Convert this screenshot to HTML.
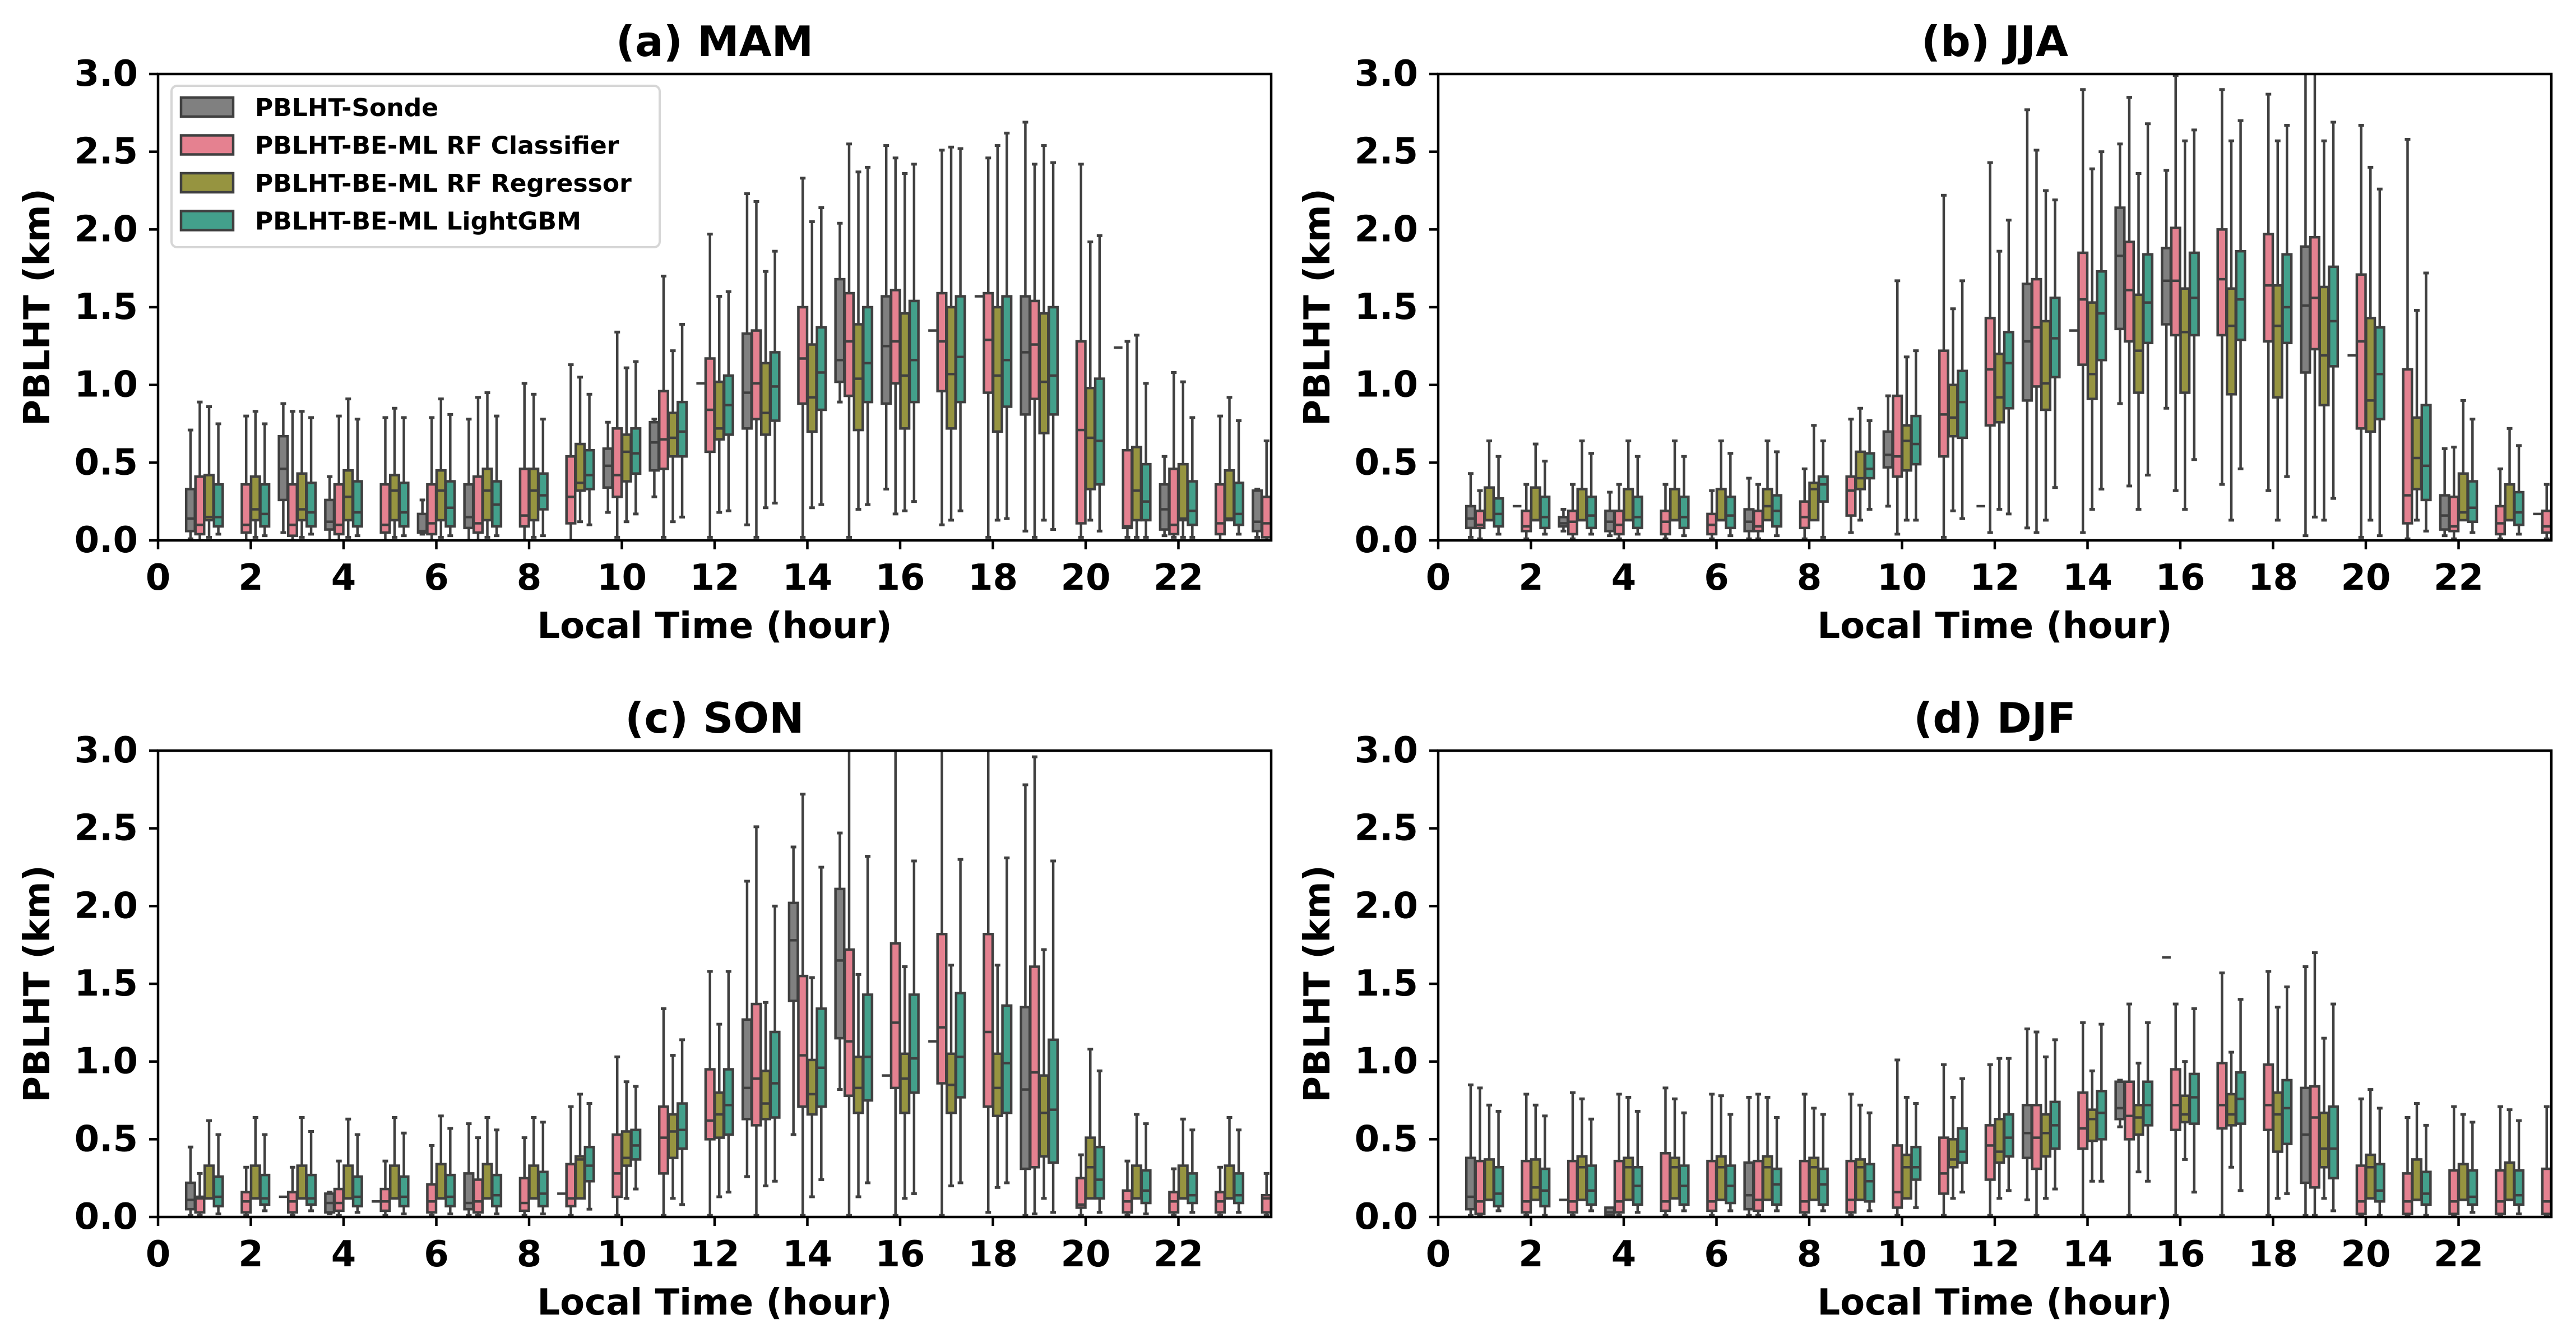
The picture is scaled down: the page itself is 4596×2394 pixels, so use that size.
<!DOCTYPE html>
<html><head><meta charset="utf-8">
<style>
html,body{margin:0;padding:0;background:#fff;}
svg{display:block;font-family:"DejaVu Sans","Liberation Sans",sans-serif;font-weight:bold;}
</style></head>
<body>
<svg id="fig" width="4596" height="2394" viewBox="0 0 4596 2394" xmlns="http://www.w3.org/2000/svg"></svg>
<script>
// ---- data: each entry = [whisker-low, q1, median, q3, whisker-high] for hours 1..24 ----
const hours = [1,2,3,4,5,6,7,8,9,10,11,12,13,14,15,16,17,18,19,20,21,22,23,24];
const seriesNames = ["PBLHT-Sonde","PBLHT-BE-ML RF Classifier","PBLHT-BE-ML RF Regressor","PBLHT-BE-ML LightGBM"];
const yTicks = [0.0,0.5,1.0,1.5,2.0,2.5,3.0];
const xTicks = [0,2,4,6,8,10,12,14,16,18,20,22];
const panelTitles = ["(a) MAM","(b) JJA","(c) SON","(d) DJF"];

const A_S = [[0.01,0.06,0.14,0.33,0.71],null,[0.05,0.26,0.46,0.67,0.88],[0,0.07,0.12,0.26,0.41],null,[0.04,0.05,0.06,0.17,0.26],[0,0.08,0.15,0.36,0.78],null,null,[0.18,0.34,0.48,0.59,0.76],[0.28,0.45,0.63,0.76,0.78],[1.01,1.01,1.01,1.01,1.01],[0.10,0.72,0.95,1.33,2.23],null,[0.89,1.02,1.16,1.68,2.04],[0.33,0.88,1.25,1.57,2.54],[1.35,1.35,1.35,1.35,1.35],[1.57,1.57,1.57,1.57,1.57],[0.06,0.81,1.21,1.57,2.69],null,[1.24,1.24,1.24,1.24,1.24],[0.03,0.07,0.20,0.36,0.54],null,[0.02,0.06,0.12,0.32,0.33]];
const A_C = [[0,0.04,0.10,0.41,0.89],[0,0.05,0.10,0.36,0.80],[0,0.03,0.10,0.36,0.83],[0,0.04,0.10,0.36,0.80],[0,0.05,0.10,0.36,0.79],[0,0.04,0.11,0.36,0.79],[0,0.05,0.11,0.41,0.92],[0,0.09,0.16,0.46,1.01],[0,0.11,0.28,0.54,1.13],[0.02,0.28,0.42,0.72,1.34],[0.02,0.46,0.65,0.96,1.70],[0.02,0.57,0.84,1.17,1.97],[0.02,0.78,1.01,1.35,2.18],[0.02,0.88,1.17,1.50,2.33],[0.02,0.93,1.28,1.59,2.55],[0.17,1.01,1.28,1.61,2.46],[0.10,0.96,1.28,1.59,2.51],[0.02,0.95,1.29,1.59,2.46],[0.02,0.91,1.26,1.54,2.42],[0.02,0.11,0.71,1.28,2.42],[0.02,0.08,0.09,0.58,1.28],[0.02,0.04,0.10,0.46,1.08],[0,0.04,0.11,0.36,0.80],[0,0.02,0.11,0.28,0.64]];
const A_R = [[0.02,0.13,0.15,0.42,0.86],[0.02,0.13,0.20,0.41,0.83],[0.02,0.13,0.20,0.43,0.83],[0.02,0.13,0.28,0.45,0.91],[0.02,0.13,0.32,0.42,0.85],[0.02,0.13,0.32,0.45,0.91],[0.02,0.13,0.32,0.46,0.95],[0.02,0.13,0.32,0.46,0.94],[0.12,0.32,0.37,0.62,1.05],[0.12,0.38,0.57,0.68,1.11],[0.12,0.54,0.66,0.82,1.22],[0.18,0.65,0.72,1.02,1.57],[0.21,0.68,0.82,1.14,1.73],[0.21,0.70,0.92,1.26,2.05],[0.20,0.71,1.04,1.39,2.37],[0.19,0.72,1.06,1.46,2.36],[0.13,0.72,1.07,1.50,2.53],[0.13,0.70,1.06,1.50,2.54],[0.13,0.69,1.02,1.46,2.54],[0.13,0.33,0.66,0.98,1.92],[0.02,0.13,0.32,0.60,1.32],[0.02,0.13,0.14,0.49,1.02],[0.13,0.13,0.14,0.45,0.92],null];
const A_L = [[0.04,0.09,0.15,0.36,0.75],[0.03,0.09,0.17,0.36,0.75],[0.04,0.09,0.18,0.37,0.79],[0.03,0.09,0.18,0.38,0.78],[0.03,0.09,0.18,0.37,0.79],[0.03,0.09,0.21,0.38,0.81],[0.03,0.09,0.23,0.38,0.80],[0.03,0.20,0.29,0.43,0.78],[0.10,0.33,0.42,0.58,0.94],[0.17,0.43,0.56,0.72,1.15],[0.15,0.54,0.70,0.89,1.39],[0.19,0.68,0.87,1.06,1.60],[0.24,0.77,0.99,1.21,1.86],[0.23,0.84,1.08,1.37,2.14],[0.23,0.89,1.14,1.50,2.40],[0.25,0.89,1.16,1.54,2.42],[0.19,0.89,1.18,1.57,2.52],[0.14,0.86,1.16,1.57,2.62],[0.07,0.81,1.06,1.50,2.43],[0.06,0.36,0.64,1.04,1.96],[0.02,0.13,0.25,0.49,1.01],[0.02,0.10,0.19,0.38,0.79],[0.04,0.10,0.17,0.37,0.77],null];

const B_S = [[0.02,0.08,0.14,0.22,0.43],[0.22,0.22,0.22,0.22,0.22],[0.06,0.09,0.11,0.15,0.20],[0.03,0.06,0.12,0.19,0.31],null,null,[0.01,0.06,0.12,0.20,0.40],null,null,[0.22,0.47,0.55,0.70,0.93],null,[0.22,0.22,0.22,0.22,0.22],[0.08,0.90,1.28,1.65,2.77],[1.35,1.35,1.35,1.35,1.35],[0.88,1.36,1.83,2.14,2.55],[0.85,1.39,1.67,1.88,2.38],null,null,[0.03,1.08,1.51,1.89,3.2],[1.19,1.19,1.19,1.19,1.19],null,[0.03,0.07,0.16,0.29,0.59],null,[0.17,0.17,0.17,0.17,0.17]];
const B_C = [[0.01,0.08,0.10,0.19,0.32],[0.01,0.06,0.09,0.19,0.36],[0.01,0.04,0.12,0.19,0.36],[0.01,0.04,0.10,0.19,0.36],[0.01,0.04,0.12,0.19,0.36],[0.01,0.04,0.10,0.17,0.32],[0.01,0.06,0.09,0.19,0.36],[0.01,0.08,0.15,0.25,0.46],[0.05,0.16,0.32,0.41,0.78],[0.04,0.41,0.54,0.93,1.67],[0.02,0.54,0.81,1.22,2.22],[0.05,0.74,1.10,1.43,2.43],[0.05,0.99,1.37,1.68,2.51],[0.05,1.13,1.55,1.85,2.90],[0.35,1.28,1.61,1.92,2.85],[0.32,1.32,1.67,2.01,2.99],[0.36,1.32,1.68,2.00,2.90],[0.32,1.28,1.64,1.97,2.87],[0.15,1.23,1.56,1.95,3.1],[0.02,0.72,1.28,1.71,2.67],[0.01,0.11,0.29,1.10,2.58],[0.01,0.06,0.09,0.28,0.60],[0.01,0.04,0.11,0.22,0.46],[0.01,0.05,0.09,0.19,0.36]];
const B_R = [[0.13,0.13,0.13,0.34,0.64],[0.13,0.13,0.13,0.34,0.62],[0.13,0.13,0.13,0.33,0.64],[0.13,0.13,0.13,0.33,0.64],[0.13,0.13,0.13,0.33,0.64],[0.13,0.13,0.13,0.33,0.64],[0.13,0.13,0.22,0.33,0.64],[0.13,0.13,0.33,0.37,0.74],[0.13,0.33,0.40,0.57,0.85],[0.13,0.45,0.64,0.74,1.18],[0.19,0.67,0.79,1.00,1.49],[0.20,0.76,0.92,1.20,1.86],[0.13,0.84,1.01,1.41,2.25],[0.20,0.91,1.07,1.53,2.39],[0.20,0.95,1.22,1.58,2.36],[0.20,0.95,1.34,1.62,2.57],[0.13,0.94,1.38,1.62,2.57],[0.13,0.92,1.38,1.64,2.57],[0.13,0.87,1.19,1.63,2.57],[0.13,0.70,0.90,1.43,2.40],[0.13,0.33,0.53,0.79,1.48],[0.13,0.13,0.18,0.43,0.90],[0.13,0.13,0.13,0.36,0.72],null];
const B_L = [[0.04,0.09,0.17,0.27,0.54],[0.04,0.08,0.15,0.28,0.51],[0.04,0.08,0.16,0.28,0.56],[0.04,0.08,0.15,0.28,0.54],[0.03,0.08,0.15,0.28,0.54],[0.03,0.08,0.16,0.28,0.56],[0.03,0.09,0.19,0.29,0.57],[0.02,0.25,0.36,0.41,0.64],[0.20,0.40,0.46,0.56,0.77],[0.13,0.49,0.62,0.80,1.22],[0.14,0.66,0.89,1.09,1.67],[0.17,0.85,1.14,1.34,2.06],[0.34,1.05,1.30,1.56,2.19],[0.33,1.16,1.46,1.73,2.50],[0.42,1.27,1.53,1.84,2.68],[0.52,1.32,1.56,1.85,2.64],[0.46,1.29,1.55,1.86,2.70],[0.41,1.27,1.50,1.84,2.67],[0.27,1.12,1.41,1.76,2.69],[0.03,0.78,1.07,1.37,2.26],[0.06,0.26,0.48,0.87,1.72],[0.05,0.12,0.21,0.38,0.78],[0.04,0.10,0.18,0.31,0.61],null];

const C_S = [[0.01,0.05,0.11,0.22,0.45],null,[0.13,0.13,0.13,0.13,0.13],[0.02,0.03,0.09,0.15,0.16],[0.10,0.10,0.10,0.10,0.10],null,[0.01,0.05,0.09,0.28,0.60],null,[0.15,0.15,0.15,0.15,0.15],null,null,null,[0.26,0.63,0.83,1.27,2.16],[0.53,1.39,1.78,2.02,2.38],[0.82,1.15,1.65,2.11,2.47],[0.91,0.91,0.91,0.91,0.91],[1.13,1.13,1.13,1.13,1.13],null,[0.01,0.31,0.82,1.35,2.78],null,null,null,null,null];
const C_C = [[0.01,0.03,0.12,0.13,0.28],[0.01,0.03,0.10,0.16,0.32],[0.01,0.03,0.10,0.16,0.32],[0.01,0.04,0.09,0.18,0.36],[0.01,0.04,0.10,0.18,0.36],[0.01,0.03,0.10,0.21,0.46],[0.01,0.03,0.10,0.24,0.51],[0.01,0.04,0.09,0.25,0.51],[0.01,0.07,0.12,0.34,0.71],[0.01,0.13,0.28,0.53,1.03],[0.01,0.28,0.51,0.71,1.34],[0.01,0.50,0.62,0.95,1.58],[0.01,0.59,0.89,1.37,2.51],[0.01,0.71,1.04,1.55,2.72],[0.01,0.78,1.13,1.72,3.2],[0.01,0.83,1.25,1.76,3.2],[0.01,0.86,1.22,1.82,3.2],[0.03,0.71,1.19,1.82,3.2],[0.02,0.32,0.93,1.61,2.96],[0.01,0.06,0.08,0.25,0.40],[0.01,0.03,0.10,0.17,0.36],[0.01,0.03,0.10,0.16,0.31],[0.01,0.03,0.10,0.16,0.32],[0.01,0.03,0.12,0.14,0.28]];
const C_R = [[0.12,0.12,0.12,0.33,0.62],[0.12,0.12,0.12,0.33,0.64],[0.12,0.12,0.12,0.33,0.64],[0.12,0.12,0.12,0.33,0.63],[0.12,0.12,0.12,0.33,0.64],[0.12,0.12,0.12,0.34,0.65],[0.12,0.12,0.12,0.34,0.64],[0.12,0.12,0.12,0.33,0.64],[0.12,0.12,0.37,0.39,0.79],[0.12,0.33,0.38,0.55,0.87],[0.12,0.38,0.55,0.66,1.04],[0.13,0.51,0.66,0.80,1.24],[0.20,0.63,0.73,0.94,1.38],[0.13,0.66,0.79,1.01,1.54],[0.13,0.67,0.83,1.03,1.56],[0.12,0.67,0.89,1.05,1.61],[0.20,0.67,0.85,1.05,1.62],[0.19,0.65,0.83,1.05,1.62],[0.12,0.39,0.67,0.91,1.72],[0.12,0.12,0.32,0.51,1.08],[0.12,0.12,0.12,0.33,0.66],[0.12,0.12,0.12,0.33,0.63],[0.12,0.12,0.12,0.33,0.64],null];
const C_L = [[0.02,0.07,0.13,0.26,0.53],[0.04,0.08,0.12,0.27,0.53],[0.04,0.08,0.12,0.27,0.55],[0.03,0.07,0.13,0.26,0.53],[0.02,0.07,0.13,0.26,0.54],[0.02,0.07,0.13,0.27,0.57],[0.02,0.07,0.14,0.27,0.56],[0.02,0.07,0.15,0.29,0.61],[0.05,0.23,0.33,0.45,0.73],[0.18,0.37,0.46,0.56,0.84],[0.08,0.44,0.56,0.73,1.14],[0.16,0.53,0.72,0.95,1.58],[0.23,0.64,0.86,1.19,2.00],[0.24,0.71,0.96,1.34,2.25],[0.22,0.75,1.03,1.43,2.32],[0.15,0.80,1.02,1.43,2.29],[0.22,0.77,1.03,1.44,2.30],[0.22,0.67,0.99,1.36,2.31],[0.03,0.35,0.69,1.14,2.29],[0.03,0.12,0.24,0.45,0.94],[0.02,0.09,0.17,0.30,0.60],[0.03,0.09,0.14,0.28,0.56],[0.03,0.09,0.14,0.28,0.56],null];

const D_S = [[0.01,0.05,0.13,0.38,0.85],null,[0.11,0.11,0.11,0.11,0.11],[0.01,0.01,0.03,0.06,0.06],null,null,[0.01,0.05,0.14,0.35,0.77],null,null,null,null,null,[0.11,0.38,0.54,0.72,1.21],null,[0.58,0.63,0.70,0.87,0.88],[1.67,1.67,1.67,1.67,1.67],null,null,[0.01,0.22,0.53,0.83,1.61],null,null,null,null,null];
const D_C = [[0.01,0.02,0.10,0.36,0.83],[0.01,0.03,0.10,0.36,0.79],[0.01,0.03,0.10,0.36,0.80],[0.01,0.03,0.10,0.36,0.79],[0.01,0.04,0.10,0.41,0.83],[0.01,0.04,0.10,0.36,0.79],[0.01,0.04,0.11,0.36,0.79],[0.01,0.03,0.10,0.36,0.79],[0.01,0.03,0.11,0.36,0.79],[0.01,0.06,0.16,0.46,1.01],[0.01,0.15,0.28,0.51,0.98],[0.01,0.24,0.46,0.59,0.98],[0.01,0.31,0.51,0.72,1.19],[0.01,0.44,0.57,0.80,1.25],[0.01,0.50,0.65,0.87,1.37],[0.01,0.56,0.72,0.95,1.37],[0.01,0.57,0.72,0.99,1.57],[0.01,0.56,0.72,0.98,1.58],[0.01,0.19,0.64,0.84,1.70],[0.01,0.02,0.10,0.33,0.76],[0.01,0.02,0.10,0.28,0.64],[0.01,0.02,0.10,0.30,0.71],[0.01,0.02,0.10,0.30,0.71],[0.01,0.02,0.10,0.31,0.71]];
const D_R = [[0.11,0.11,0.11,0.37,0.72],[0.11,0.11,0.19,0.37,0.72],[0.11,0.11,0.32,0.39,0.76],[0.11,0.11,0.32,0.38,0.77],[0.12,0.12,0.32,0.38,0.76],[0.11,0.11,0.32,0.39,0.78],[0.11,0.11,0.32,0.39,0.77],[0.11,0.11,0.32,0.38,0.70],[0.11,0.11,0.32,0.37,0.72],[0.12,0.12,0.32,0.40,0.77],[0.12,0.32,0.37,0.50,0.77],[0.12,0.35,0.42,0.63,1.02],[0.12,0.39,0.54,0.66,1.03],[0.23,0.49,0.63,0.69,0.94],[0.29,0.53,0.64,0.72,0.99],[0.37,0.61,0.66,0.78,1.00],[0.32,0.59,0.66,0.79,1.06],[0.12,0.42,0.66,0.80,1.35],[0.12,0.32,0.44,0.67,1.15],[0.12,0.12,0.32,0.40,0.82],[0.11,0.11,0.11,0.37,0.73],[0.11,0.11,0.11,0.34,0.66],[0.11,0.11,0.11,0.35,0.69],null];
const D_L = [[0.04,0.07,0.15,0.32,0.68],[0.01,0.07,0.17,0.31,0.65],[0.04,0.08,0.17,0.33,0.63],[0.03,0.08,0.20,0.32,0.68],[0.04,0.08,0.20,0.33,0.67],[0.04,0.09,0.20,0.33,0.66],[0.04,0.08,0.21,0.31,0.64],[0.04,0.08,0.21,0.31,0.66],[0.04,0.10,0.23,0.34,0.67],[0.06,0.24,0.32,0.45,0.73],[0.16,0.35,0.42,0.57,0.89],[0.17,0.39,0.51,0.66,1.02],[0.18,0.44,0.59,0.74,1.14],[0.23,0.50,0.67,0.81,1.24],[0.23,0.59,0.72,0.87,1.25],[0.16,0.60,0.77,0.92,1.34],[0.17,0.60,0.76,0.93,1.40],[0.15,0.47,0.70,0.88,1.48],[0.04,0.25,0.44,0.71,1.37],[0.01,0.10,0.17,0.34,0.70],[0.01,0.08,0.15,0.29,0.59],[0.03,0.08,0.13,0.30,0.61],[0.02,0.08,0.14,0.30,0.62],null];

const panelData = [[A_S,A_C,A_R,A_L],[B_S,B_C,B_R,B_L],[C_S,C_C,C_R,C_L],[D_S,D_C,D_R,D_L]];

// ---- rendering ----
const NS = "http://www.w3.org/2000/svg";
const svg = document.getElementById('fig');
const COLORS = ["#808080","#e58190","#969440","#43a08b"];
const EDGE = "#404040";
const OFFS = [-0.3,-0.1,0.1,0.3];
const panels = [
  {l:282,r:2268,t:132,b:964},
  {l:2566,r:4552,t:132,b:964},
  {l:282,r:2268,t:1339,b:2171},
  {l:2566,r:4552,t:1339,b:2171}
];
function mk(tag, attrs, parent){
  const e = document.createElementNS(NS, tag);
  for (const k in attrs) e.setAttribute(k, attrs[k]);
  (parent||svg).appendChild(e);
  return e;
}

panels.forEach((P, pi) => {
  const g = mk('g', {});
  
  
  const xS = h => P.l + (h/24)*(P.r-P.l);
  const yS = v => P.b - (v/3)*(P.b-P.t);
  const clipId = 'clip'+pi;
  const cp = mk('clipPath', {id:clipId}, g);
  mk('rect', {x:P.l, y:P.t, width:P.r-P.l, height:P.b-P.t}, cp);
  const marks = mk('g', {'clip-path':'url(#'+clipId+')'}, g);
  
  
  const boxW = (P.r-P.l)/24*0.2 - 1;
  panelData[pi].forEach((series, si) => {
    series.forEach((st, hi) => {
      if (!st) return;
      const cx = xS(hours[hi] + OFFS[si]);
      const bg = mk('g', {}, marks);
      
      
      const [lo,q1,md,q3,hiV] = st;
      mk('line', {x1:cx,x2:cx,y1:yS(lo),y2:yS(q1),stroke:EDGE,'stroke-width':4.5}, bg);
      mk('line', {x1:cx,x2:cx,y1:yS(q3),y2:yS(hiV),stroke:EDGE,'stroke-width':4.5}, bg);
      if (hiV > q3) mk('line', {x1:cx-5,x2:cx+5,y1:yS(hiV),y2:yS(hiV),stroke:EDGE,'stroke-width':5}, bg);
      if (lo < q1) mk('line', {x1:cx-5,x2:cx+5,y1:yS(lo),y2:yS(lo),stroke:EDGE,'stroke-width':5}, bg);
      mk('rect', {x:cx-boxW/2, y:yS(q3), width:boxW, height:Math.max(0,yS(q1)-yS(q3)), fill:COLORS[si], stroke:EDGE,'stroke-width':4.5}, bg);
      mk('line', {x1:cx-boxW/2,x2:cx+boxW/2,y1:yS(md),y2:yS(md),stroke:EDGE,'stroke-width':4.5}, bg);
    });
  });
  // spines
  const sp = mk('rect', {x:P.l, y:P.t, width:P.r-P.l, height:P.b-P.t, fill:'none', stroke:'#000','stroke-width':4.5}, g);
  
  
  // y ticks
  yTicks.forEach(v => {
    mk('line', {x1:P.l-16,x2:P.l,y1:yS(v),y2:yS(v),stroke:'#000','stroke-width':4.5}, g);
    const t = mk('text', {x:P.l-36, y:yS(v), 'text-anchor':'end','dominant-baseline':'central','font-size':64}, g);
    t.textContent = v.toFixed(1);
    
    
  });
  xTicks.forEach(v => {
    mk('line', {x1:xS(v),x2:xS(v),y1:P.b,y2:P.b+16,stroke:'#000','stroke-width':4.5}, g);
    const t = mk('text', {x:xS(v), y:P.b+88, 'text-anchor':'middle','font-size':64}, g);
    t.textContent = String(v);
    
    
  });
  const xl = mk('text', {x:(P.l+P.r)/2, y:P.b+174, 'text-anchor':'middle','font-size':64}, g);
  xl.textContent = 'Local Time (hour)';
  
  
  const yx = P.l-215, yy = (P.t+P.b)/2;
  const yl = mk('text', {x:yx, y:yy, 'text-anchor':'middle','dominant-baseline':'central','font-size':64, transform:'rotate(-90 '+yx+' '+yy+')'}, g);
  yl.textContent = 'PBLHT (km)';
  
  
  const ti = mk('text', {x:(P.l+P.r)/2, y:P.t-32, 'text-anchor':'middle','font-size':75}, g);
  ti.textContent = panelTitles[pi];
  
  
});

// legend (panel a)
const lg = mk('g', {});


mk('rect', {x:306, y:153, width:871, height:288, rx:10, fill:'#fff', 'fill-opacity':0.85, stroke:'#d6d6d6','stroke-width':4}, lg);
seriesNames.forEach((n, i) => {
  const cy = 191 + i*67.5;
  const e = mk('g', {}, lg);
  
  
  mk('rect', {x:323, y:cy-17, width:93, height:34, fill:COLORS[i], stroke:EDGE, 'stroke-width':4.5}, e);
  const t = mk('text', {x:455, y:cy+16, 'font-size':44}, e);
  t.textContent = n;
});
</script>
</body></html>
